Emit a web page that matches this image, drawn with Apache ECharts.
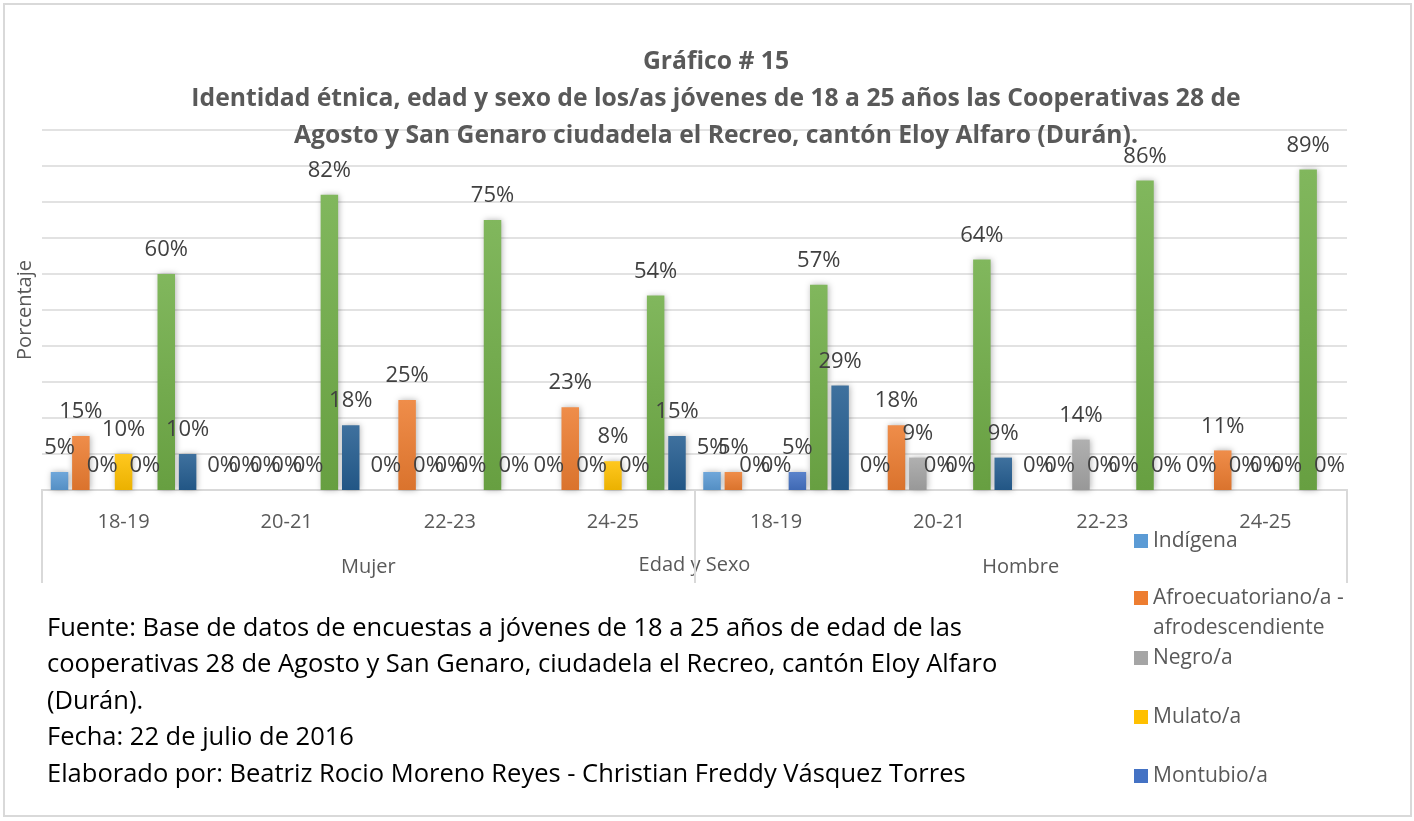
<!DOCTYPE html>
<html>
<head>
    <meta charset="UTF-8">
    <title>Gráfico 15</title>
</head>
<style>
    html, body { margin: 0; padding: 0; background: #fff; }
    #chart { width: 1414px; height: 821px; }
</style>
<body>
<div id="chart"></div>
<script src="https://cdn.jsdelivr.net/npm/echarts@6/dist/echarts.min.js"></script>
<script>
    // datos
    var sexos = ['Mujer', 'Hombre'];
    var edades = ['18-19', '20-21', '22-23', '24-25'];
    var nombres = ['Indígena', 'Afroecuatoriano/a - afrodescendiente', 'Negro/a', 'Mulato/a', 'Montubio/a', 'Mestizo/a', 'Blanco/a'];
    var indigena = [5, 0, 0, 0, 5, 0, 0, 0];
    var afro = [15, 0, 25, 23, 5, 18, 0, 11];
    var negro = [0, 0, 0, 0, 0, 9, 14, 0];
    var mulato = [10, 0, 0, 8, 0, 0, 0, 0];
    var montubio = [0, 0, 0, 0, 5, 0, 0, 0];
    var mestizo = [60, 82, 75, 54, 57, 64, 86, 89];
    var blanco = [10, 18, 0, 15, 29, 9, 0, 0];
    var valores = [indigena, afro, negro, mulato, montubio, mestizo, blanco];
    var colores = ['#5B9BD5', '#ED7D31', '#A5A5A5', '#FFC000', '#4472C4', '#70AD47', '#255E91'];

    var categorias = [];
    sexos.forEach(function (s) {
        edades.forEach(function (e) { categorias.push(s + '|' + e); });
    });

    function mezcla(hex, k) {
        var n = parseInt(hex.slice(1), 16);
        var r = n >> 16, g = (n >> 8) & 255, b = n & 255;
        var t = k > 0 ? 255 : 0, a = Math.abs(k);
        r = Math.round(r + (t - r) * a); g = Math.round(g + (t - g) * a); b = Math.round(b + (t - b) * a);
        return 'rgb(' + r + ',' + g + ',' + b + ')';
    }

    var series = valores.map(function (v, i) {
        return {
            name: nombres[i],
            type: 'bar',
            data: v,
            barWidth: 17.5,
            barGap: '22%',
            itemStyle: {
                color: new echarts.graphic.LinearGradient(0, 0, 0, 1, [
                    {offset: 0, color: mezcla(colores[i], 0.12)},
                    {offset: 1, color: mezcla(colores[i], -0.08)}
                ]),
                shadowBlur: 6,
                shadowColor: 'rgba(0,0,0,0.3)',
                shadowOffsetX: 1
            },
            label: {
                show: true,
                position: 'top',
                distance: 13,
                formatter: '{c}%',
                color: '#404040',
                fontSize: 22,
                fontFamily: 'Open Sans'
            }
        };
    });

    // posicion de cada entrada de la leyenda
    var legendTops = [526, 553, 643, 702, 761];
    var legends = [0, 1, 2, 3, 4].map(function (i, k) {
        return {
            data: [{name: nombres[i], icon: 'rect', itemStyle: {color: colores[i], shadowBlur: 0}}],
            left: 1134,
            top: legendTops[k],
            padding: 0,
            itemWidth: 14,
            itemHeight: 14,
            selectedMode: false,
            formatter: function (n) { return n.indexOf(' - ') > 0 ? '\n' + n.replace(' - ', ' -\n') : n; },
            textStyle: {
                fontSize: 21,
                lineHeight: 30,
                color: '#595959',
                fontFamily: 'Open Sans'
            }
        };
    });

    var chart = echarts.init(document.getElementById('chart'));
    chart.setOption({
        animation: false,
        title: {
            text: 'Gráfico # 15\nIdentidad étnica, edad y sexo de los/as jóvenes de 18 a 25 años las Cooperativas 28 de\nAgosto y San Genaro ciudadela el Recreo, cantón Eloy Alfaro (Durán).',
            left: 716,
            top: 43,
            textAlign: 'center',
            padding: 0,
            textStyle: {
                fontFamily: 'Open Sans',
                fontWeight: 'bold',
                fontSize: 24.7,
                lineHeight: 37,
                color: '#595959'
            }
        },
        legend: legends,
        grid: {left: 42, right: 67, top: 130, bottom: 331},
        xAxis: [{
            type: 'category',
            data: categorias,
            position: 'bottom',
            axisLine: {lineStyle: {color: '#D9D9D9', width: 2}},
            axisTick: {show: false},
            axisLabel: {
                formatter: function (v) { return v.split('|')[1]; },
                margin: 22,
                fontSize: 20,
                color: '#595959',
                fontFamily: 'Open Sans'
            }
        }, {
            type: 'category',
            data: sexos,
            position: 'bottom',
            name: 'Edad y Sexo',
            nameLocation: 'middle',
            nameGap: 65,
            nameMoveOverlap: false,
            nameTextStyle: {fontSize: 20, color: '#595959', fontFamily: 'Open Sans'},
            axisLine: {lineStyle: {color: '#D9D9D9', width: 2}},
            axisTick: {show: true, length: 93, lineStyle: {color: '#D9D9D9', width: 2}},
            axisLabel: {margin: 67, fontSize: 20, color: '#595959', fontFamily: 'Open Sans'}
        }],
        yAxis: {
            type: 'value',
            min: 0,
            max: 100,
            interval: 10,
            name: 'Porcentaje',
            nameLocation: 'middle',
            nameGap: 7,
            nameTextStyle: {fontSize: 20, color: '#595959', fontFamily: 'Open Sans', verticalAlign: 'bottom'},
            axisLine: {show: false},
            axisTick: {show: false},
            axisLabel: {show: false},
            splitLine: {lineStyle: {color: '#D9D9D9', width: 1.5}}
        },
        graphic: [{
            type: 'rect',
            shape: {x: 4, y: 4, width: 1407, height: 812},
            style: {fill: 'none', stroke: '#D9D9D9', lineWidth: 2},
            silent: true
        }, {
            type: 'text',
            left: 47,
            top: 610,
            style: {
                text: 'Fuente: Base de datos de encuestas a jóvenes de 18 a 25 años de edad de las\ncooperativas 28 de Agosto y San Genaro, ciudadela el Recreo, cantón Eloy Alfaro\n(Durán).\nFecha: 22 de julio de 2016\nElaborado por: Beatriz Rocio Moreno Reyes - Christian Freddy Vásquez Torres',
                font: '25.5px "Open Sans"',
                lineHeight: 36.5,
                fill: '#000'
            }
        }],
        series: series
    });
</script>
</body>
</html>
